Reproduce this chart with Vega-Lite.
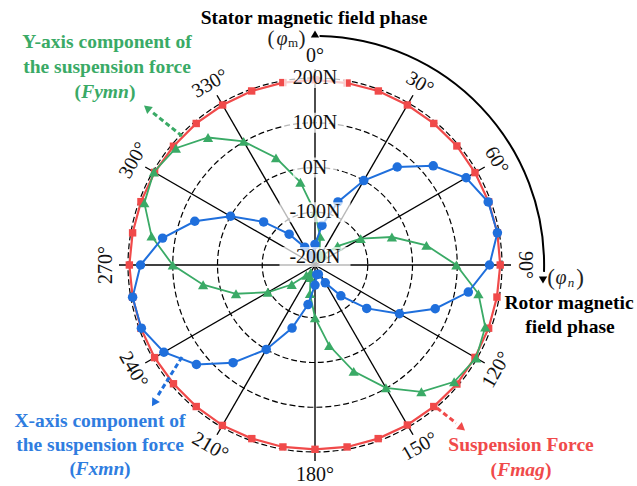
{
 "$schema": "https://vega.github.io/schema/vega-lite/v6.json",
 "width": 400, "height": 400,
 "autosize": "none",
 "padding": {"left": 115, "top": 65, "right": 122, "bottom": 21},
 "background": "white",
 "config": {"view": {"stroke": null}, "font": "Liberation Serif"},
 "datasets": {
  "series": [
   {"s":"Fmag","deg":0,"v":196},{"s":"Fmag","deg":10,"v":195},{"s":"Fmag","deg":20,"v":196},{"s":"Fmag","deg":30,"v":195},{"s":"Fmag","deg":40,"v":195},{"s":"Fmag","deg":50,"v":196},{"s":"Fmag","deg":60,"v":195},{"s":"Fmag","deg":70,"v":195},{"s":"Fmag","deg":80,"v":196},{"s":"Fmag","deg":90,"v":196},{"s":"Fmag","deg":100,"v":195},{"s":"Fmag","deg":110,"v":195},{"s":"Fmag","deg":120,"v":195},{"s":"Fmag","deg":130,"v":196},{"s":"Fmag","deg":140,"v":195},{"s":"Fmag","deg":150,"v":195},{"s":"Fmag","deg":160,"v":195},{"s":"Fmag","deg":170,"v":195},{"s":"Fmag","deg":180,"v":194},{"s":"Fmag","deg":190,"v":195},{"s":"Fmag","deg":200,"v":195},{"s":"Fmag","deg":210,"v":196},{"s":"Fmag","deg":220,"v":195},{"s":"Fmag","deg":230,"v":195},{"s":"Fmag","deg":240,"v":196},{"s":"Fmag","deg":250,"v":196},{"s":"Fmag","deg":260,"v":196},{"s":"Fmag","deg":270,"v":197},{"s":"Fmag","deg":280,"v":196},{"s":"Fmag","deg":290,"v":196},{"s":"Fmag","deg":300,"v":196},{"s":"Fmag","deg":310,"v":195},{"s":"Fmag","deg":320,"v":195},{"s":"Fmag","deg":330,"v":195},{"s":"Fmag","deg":340,"v":196},{"s":"Fmag","deg":350,"v":196},{"s":"Fmag","deg":360,"v":196},
   {"s":"Fymn","deg":0,"v":-100},{"s":"Fymn","deg":10,"v":-153},{"s":"Fymn","deg":20,"v":-188},{"s":"Fymn","deg":30,"v":-199},{"s":"Fymn","deg":40,"v":-188},{"s":"Fymn","deg":50,"v":-152},{"s":"Fymn","deg":60,"v":-100},{"s":"Fymn","deg":70,"v":-35},{"s":"Fymn","deg":80,"v":35},{"s":"Fymn","deg":90,"v":98},{"s":"Fymn","deg":100,"v":153},{"s":"Fymn","deg":110,"v":187},{"s":"Fymn","deg":120,"v":198},{"s":"Fymn","deg":130,"v":188},{"s":"Fymn","deg":140,"v":152},{"s":"Fymn","deg":150,"v":99},{"s":"Fymn","deg":160,"v":35},{"s":"Fymn","deg":170,"v":-35},{"s":"Fymn","deg":180,"v":-100},{"s":"Fymn","deg":190,"v":-153},{"s":"Fymn","deg":200,"v":-188},{"s":"Fymn","deg":210,"v":-199},{"s":"Fymn","deg":220,"v":-188},{"s":"Fymn","deg":230,"v":-150},{"s":"Fymn","deg":240,"v":-96},{"s":"Fymn","deg":250,"v":-30},{"s":"Fymn","deg":260,"v":36},{"s":"Fymn","deg":270,"v":100},{"s":"Fymn","deg":280,"v":153},{"s":"Fymn","deg":290,"v":188},{"s":"Fymn","deg":300,"v":198},{"s":"Fymn","deg":310,"v":188},{"s":"Fymn","deg":320,"v":154},{"s":"Fymn","deg":330,"v":101},{"s":"Fymn","deg":340,"v":37},{"s":"Fymn","deg":350,"v":-30},{"s":"Fymn","deg":360,"v":-100},
   {"s":"Fxmn","deg":0,"v":-172},{"s":"Fxmn","deg":10,"v":-128},{"s":"Fxmn","deg":20,"v":-68},{"s":"Fxmn","deg":30,"v":0},{"s":"Fxmn","deg":40,"v":68},{"s":"Fxmn","deg":50,"v":127},{"s":"Fxmn","deg":60,"v":172},{"s":"Fxmn","deg":70,"v":194},{"s":"Fxmn","deg":80,"v":196},{"s":"Fxmn","deg":90,"v":172},{"s":"Fxmn","deg":100,"v":130},{"s":"Fxmn","deg":110,"v":68},{"s":"Fxmn","deg":120,"v":0},{"s":"Fxmn","deg":130,"v":-67},{"s":"Fxmn","deg":140,"v":-128},{"s":"Fxmn","deg":150,"v":-172},{"s":"Fxmn","deg":160,"v":-196},{"s":"Fxmn","deg":170,"v":-196},{"s":"Fxmn","deg":180,"v":-173},{"s":"Fxmn","deg":190,"v":-128},{"s":"Fxmn","deg":200,"v":-68},{"s":"Fxmn","deg":210,"v":0},{"s":"Fxmn","deg":220,"v":67},{"s":"Fxmn","deg":230,"v":128},{"s":"Fxmn","deg":240,"v":172},{"s":"Fxmn","deg":250,"v":195},{"s":"Fxmn","deg":260,"v":196},{"s":"Fxmn","deg":270,"v":172},{"s":"Fxmn","deg":280,"v":128},{"s":"Fxmn","deg":290,"v":68},{"s":"Fxmn","deg":300,"v":0},{"s":"Fxmn","deg":310,"v":-68},{"s":"Fxmn","deg":320,"v":-128},{"s":"Fxmn","deg":330,"v":-172},{"s":"Fxmn","deg":340,"v":-195},{"s":"Fxmn","deg":350,"v":-196},{"s":"Fxmn","deg":360,"v":-172}
  ],
  "rings": [{"v":-100},{"v":0},{"v":100},{"v":200}],
  "spokes": [{"deg":0},{"deg":30},{"deg":60},{"deg":90},{"deg":120},{"deg":150},{"deg":180},{"deg":210},{"deg":240},{"deg":270},{"deg":300},{"deg":330}],
  "angles": [{"deg":0,"label":"0°"},{"deg":30,"label":"30°"},{"deg":60,"label":"60°"},{"deg":90,"label":"90°"},{"deg":120,"label":"120°"},{"deg":150,"label":"150°"},{"deg":180,"label":"180°"},{"deg":210,"label":"210°"},{"deg":240,"label":"240°"},{"deg":270,"label":"270°"},{"deg":300,"label":"300°"},{"deg":330,"label":"330°"}],
  "rlabels": [{"v":200,"label":"200N"},{"v":100,"label":"100N"},{"v":0,"label":"0N"},{"v":-100,"label":"-100N"},{"v":-200,"label":"-200N"}],
  "notes": [
   {"id":"stator","kind":"c","text":"Stator magnetic field phase"},
   {"id":"rotor1","kind":"c","text":"Rotor magnetic"},{"id":"rotor2","kind":"c","text":"field phase"},
   {"id":"g1","kind":"c","text":"Y-axis component of"},{"id":"g2","kind":"c","text":"the suspension force"},
   {"id":"g3","kind":"i","text":"Fymn"},{"id":"gL","kind":"l","text":"("},{"id":"gR","kind":"r","text":")"},
   {"id":"b1","kind":"c","text":"X-axis component of"},{"id":"b2","kind":"c","text":"the suspension force"},
   {"id":"b3","kind":"i","text":"Fxmn"},{"id":"bL","kind":"l","text":"("},{"id":"bR","kind":"r","text":")"},
   {"id":"r1","kind":"c","text":"Suspension Force"},
   {"id":"r2","kind":"i","text":"Fmag"},{"id":"rL","kind":"l","text":"("},{"id":"rR","kind":"r","text":")"}
  ]
 },
 "encoding": {
  "x": {"field": "x", "type": "quantitative", "scale": {"domain": [-200, 200], "nice": false, "zero": false}, "axis": null},
  "y": {"field": "y", "type": "quantitative", "scale": {"domain": [-200, 200], "nice": false, "zero": false}, "axis": null}
 },
 "layer": [
  {"data": {"name": "rings"},
   "transform": [{"calculate": "8 + (datum.v + 200) * 0.4475", "as": "r"}, {"calculate": "4 * datum.r * datum.r", "as": "sz"}, {"calculate": "0", "as": "x"}, {"calculate": "0", "as": "y"}],
   "mark": {"type": "point", "shape": "circle", "filled": false, "stroke": "black", "strokeWidth": 1.2, "strokeDash": [6, 3], "opacity": 1},
   "encoding": {"size": {"field": "sz", "type": "quantitative", "legend": null, "scale": {"type": "linear", "domain": [0, 200000], "range": [0, 200000], "zero": true}}}},
  {"data": {"name": "spokes"},
   "transform": [{"calculate": "196*sin(datum.deg*PI/180)", "as": "x2"}, {"calculate": "196*cos(datum.deg*PI/180)", "as": "y2"}, {"calculate": "0", "as": "x"}, {"calculate": "0", "as": "y"}],
   "mark": {"type": "rule", "color": "black", "strokeWidth": 1.4},
   "encoding": {"x2": {"field": "x2"}, "y2": {"field": "y2"}}},
  {"data": {"name": "series"},
   "transform": [{"calculate": "8 + (datum.v + 200) * 0.4475", "as": "r"}, {"calculate": "datum.r*sin(datum.deg*PI/180)", "as": "x"}, {"calculate": "datum.r*cos(datum.deg*PI/180)", "as": "y"}],
   "layer": [
    {"transform": [{"filter": "datum.s == 'Fmag'"}],
     "mark": {"type": "line", "color": "#F04A4A", "strokeWidth": 2.2},
     "encoding": {"order": {"field": "deg", "type": "quantitative"}}},
    {"transform": [{"filter": "datum.s == 'Fmag' && datum.deg < 360"}],
     "mark": {"type": "point", "shape": "square", "filled": true, "color": "#F04A4A", "size": 55, "opacity": 1}},
    {"transform": [{"filter": "datum.s == 'Fymn'"}],
     "mark": {"type": "line", "color": "#3AAA66", "strokeWidth": 1.8},
     "encoding": {"order": {"field": "deg", "type": "quantitative"}}},
    {"transform": [{"filter": "datum.s == 'Fymn' && datum.deg < 360"}],
     "mark": {"type": "point", "shape": "triangle-up", "filled": true, "color": "#3AAA66", "size": 105, "opacity": 1}},
    {"transform": [{"filter": "datum.s == 'Fxmn'"}],
     "mark": {"type": "line", "color": "#1F6FDC", "strokeWidth": 2},
     "encoding": {"order": {"field": "deg", "type": "quantitative"}}},
    {"transform": [{"filter": "datum.s == 'Fxmn' && datum.deg < 360"}],
     "mark": {"type": "point", "shape": "circle", "filled": true, "color": "#1F6FDC", "size": 90, "opacity": 1}}
   ]},
  {"data": {"name": "rlabels"},
   "transform": [{"calculate": "8 + (datum.v + 200) * 0.4475", "as": "y"}, {"calculate": "0", "as": "x"}, {"calculate": "length(datum.label)*4.5 + 13", "as": "hw"}, {"calculate": "-datum.hw", "as": "xa"}, {"calculate": "datum.y - 10", "as": "ya"}, {"calculate": "datum.y + 10", "as": "yb"}],
   "layer": [
    {"mark": {"type": "rect", "fill": "white", "opacity": 0.72},
     "encoding": {"x": {"field": "xa", "type": "quantitative"}, "x2": {"field": "hw"}, "y": {"field": "ya", "type": "quantitative"}, "y2": {"field": "yb"}}},
    {"mark": {"type": "text", "fontSize": 20, "color": "#111", "align": "center", "baseline": "middle"},
     "encoding": {"text": {"field": "label", "type": "nominal"}}}
   ]},
  {"data": {"name": "angles"},
   "transform": [{"calculate": "209.5*sin(datum.deg*PI/180)", "as": "x"}, {"calculate": "209.5*cos(datum.deg*PI/180)", "as": "y"}, {"calculate": "datum.deg <= 90 ? datum.deg : (datum.deg < 270 ? datum.deg - 180 : datum.deg - 360)", "as": "rot"}],
   "mark": {"type": "text", "fontSize": 20, "color": "#111", "align": "center", "baseline": "middle"},
   "encoding": {"text": {"field": "label", "type": "nominal"}, "angle": {"field": "rot", "type": "quantitative", "scale": {"domain": [-360, 360], "range": [-360, 360]}}}},
  {"data": {"values": [{}]},
   "transform": [{"calculate": "0", "as": "x"}, {"calculate": "0", "as": "y"}],
   "mark": {"type": "point", "shape": "M0.02,-1A1,1,0,0,1,1,0.03", "filled": false, "stroke": "black", "strokeWidth": 2, "size": 209764, "opacity": 1}},
  {"data": {"values": [{}]},
   "transform": [{"calculate": "0", "as": "x"}, {"calculate": "231", "as": "y"}],
   "mark": {"type": "point", "shape": "triangle-up", "filled": true, "color": "black", "size": 70, "opacity": 1}},
  {"data": {"values": [{}]},
   "transform": [{"calculate": "228", "as": "x"}, {"calculate": "-15", "as": "y"}],
   "mark": {"type": "point", "shape": "triangle-down", "filled": true, "color": "black", "size": 70, "opacity": 1}},
  {"data": {"values": [{}]},
   "transform": [{"calculate": "-133", "as": "x"}, {"calculate": "129", "as": "y"}, {"calculate": "-163", "as": "x2"}, {"calculate": "153", "as": "y2"}],
   "mark": {"type": "rule", "color": "#3AAA66", "strokeWidth": 3, "strokeDash": [5, 3]},
   "encoding": {"x2": {"field": "x2"}, "y2": {"field": "y2"}}},
  {"data": {"values": [{}]},
   "transform": [{"calculate": "-168", "as": "x"}, {"calculate": "157", "as": "y"}],
   "mark": {"type": "point", "shape": "triangle-up", "filled": true, "color": "#3AAA66", "size": 80, "opacity": 1, "angle": -51}},
  {"data": {"values": [{}]},
   "transform": [{"calculate": "-133", "as": "x"}, {"calculate": "-92", "as": "y"}, {"calculate": "-158", "as": "x2"}, {"calculate": "-132", "as": "y2"}],
   "mark": {"type": "rule", "color": "#1F6FDC", "strokeWidth": 3, "strokeDash": [5, 3]},
   "encoding": {"x2": {"field": "x2"}, "y2": {"field": "y2"}}},
  {"data": {"values": [{}]},
   "transform": [{"calculate": "-161", "as": "x"}, {"calculate": "-138", "as": "y"}],
   "mark": {"type": "point", "shape": "triangle-up", "filled": true, "color": "#1F6FDC", "size": 80, "opacity": 1, "angle": 212}},
  {"data": {"values": [{}]},
   "transform": [{"calculate": "122", "as": "x"}, {"calculate": "-143", "as": "y"}, {"calculate": "141", "as": "x2"}, {"calculate": "-158", "as": "y2"}],
   "mark": {"type": "rule", "color": "#F04A4A", "strokeWidth": 3, "strokeDash": [5, 3]},
   "encoding": {"x2": {"field": "x2"}, "y2": {"field": "y2"}}},
  {"data": {"values": [{}]},
   "transform": [{"calculate": "147", "as": "x"}, {"calculate": "-163", "as": "y"}],
   "mark": {"type": "point", "shape": "triangle-up", "filled": true, "color": "#F04A4A", "size": 80, "opacity": 1, "angle": 129}},
  {"data": {"values": [{"t":"("},{"t":")"}]},
   "transform": [{"calculate": "datum.t == '(' ? -44 : -13", "as": "x"}, {"calculate": "226", "as": "y"}],
   "mark": {"type": "text", "fontSize": 21, "color": "#222", "align": "center", "baseline": "middle"},
   "encoding": {"text": {"field": "t", "type": "nominal"}}},
  {"data": {"values": [{"t":"("},{"t":")"}]},
   "transform": [{"calculate": "datum.t == '(' ? 236 : 265", "as": "x"}, {"calculate": "-13", "as": "y"}],
   "mark": {"type": "text", "fontSize": 23, "color": "#222", "align": "center", "baseline": "middle"},
   "encoding": {"text": {"field": "t", "type": "nominal"}}},
  {"data": {"values": [{"t":"φ"}]},
   "transform": [{"calculate": "-33", "as": "x"}, {"calculate": "226", "as": "y"}],
   "mark": {"type": "text", "fontSize": 20, "fontStyle": "italic", "color": "#222", "align": "center", "baseline": "middle"},
   "encoding": {"text": {"field": "t", "type": "nominal"}}},
  {"data": {"values": [{"t":"φ"}]},
   "transform": [{"calculate": "246", "as": "x"}, {"calculate": "-13", "as": "y"}],
   "mark": {"type": "text", "fontSize": 20, "fontStyle": "italic", "color": "#222", "align": "center", "baseline": "middle"},
   "encoding": {"text": {"field": "t", "type": "nominal"}}},
  {"data": {"values": [{"t":"m"}]},
   "transform": [{"calculate": "-22", "as": "x"}, {"calculate": "222", "as": "y"}],
   "mark": {"type": "text", "fontSize": 13, "color": "#222", "align": "center", "baseline": "middle"},
   "encoding": {"text": {"field": "t", "type": "nominal"}}},
  {"data": {"values": [{"t":"n"}]},
   "transform": [{"calculate": "256", "as": "x"}, {"calculate": "-18", "as": "y"}],
   "mark": {"type": "text", "fontSize": 13, "fontStyle": "italic", "color": "#222", "align": "center", "baseline": "middle"},
   "encoding": {"text": {"field": "t", "type": "nominal"}}},
  {"data": {"name": "notes"},
   "transform": [
    {"calculate": "{'stator':-1,'rotor1':254,'rotor2':255,'g1':-208,'g2':-208,'g3':-210,'gL':-234,'gR':-186,'b1':-215,'b2':-215,'b3':-215,'bL':-239,'bR':-191,'r1':206,'r2':206,'rL':182,'rR':230}[datum.id]", "as": "x"},
    {"calculate": "{'stator':247,'rotor1':-38,'rotor2':-62,'g1':223,'g2':198,'g3':173,'gL':173,'gR':173,'b1':-156,'b2':-180,'b3':-204,'bL':-204,'bR':-204,'r1':-180,'r2':-205,'rL':-205,'rR':-205}[datum.id]", "as": "y"},
    {"calculate": "datum.id[0] == 'g' ? '#3AAA66' : (datum.id[0] == 'b' ? '#2F7DE0' : (datum.id[0] == 'r' && indexof(datum.id, 'rotor') < 0 ? '#F04A4A' : 'black'))", "as": "col"}
   ],
   "layer": [
    {"transform": [{"filter": "datum.kind == 'c'"}],
     "mark": {"type": "text", "fontSize": 19.5, "fontWeight": "bold", "align": "center", "baseline": "middle"},
     "encoding": {"text": {"field": "text", "type": "nominal"}, "color": {"field": "col", "type": "nominal", "scale": null}}},
    {"transform": [{"filter": "datum.kind == 'i'"}],
     "mark": {"type": "text", "fontSize": 19.5, "fontWeight": "bold", "fontStyle": "italic", "align": "center", "baseline": "middle"},
     "encoding": {"text": {"field": "text", "type": "nominal"}, "color": {"field": "col", "type": "nominal", "scale": null}}},
    {"transform": [{"filter": "datum.kind == 'l'"}],
     "mark": {"type": "text", "fontSize": 19.5, "fontWeight": "bold", "align": "right", "baseline": "middle"},
     "encoding": {"text": {"field": "text", "type": "nominal"}, "color": {"field": "col", "type": "nominal", "scale": null}}},
    {"transform": [{"filter": "datum.kind == 'r'"}],
     "mark": {"type": "text", "fontSize": 19.5, "fontWeight": "bold", "align": "left", "baseline": "middle"},
     "encoding": {"text": {"field": "text", "type": "nominal"}, "color": {"field": "col", "type": "nominal", "scale": null}}}
   ]}
 ]
}
